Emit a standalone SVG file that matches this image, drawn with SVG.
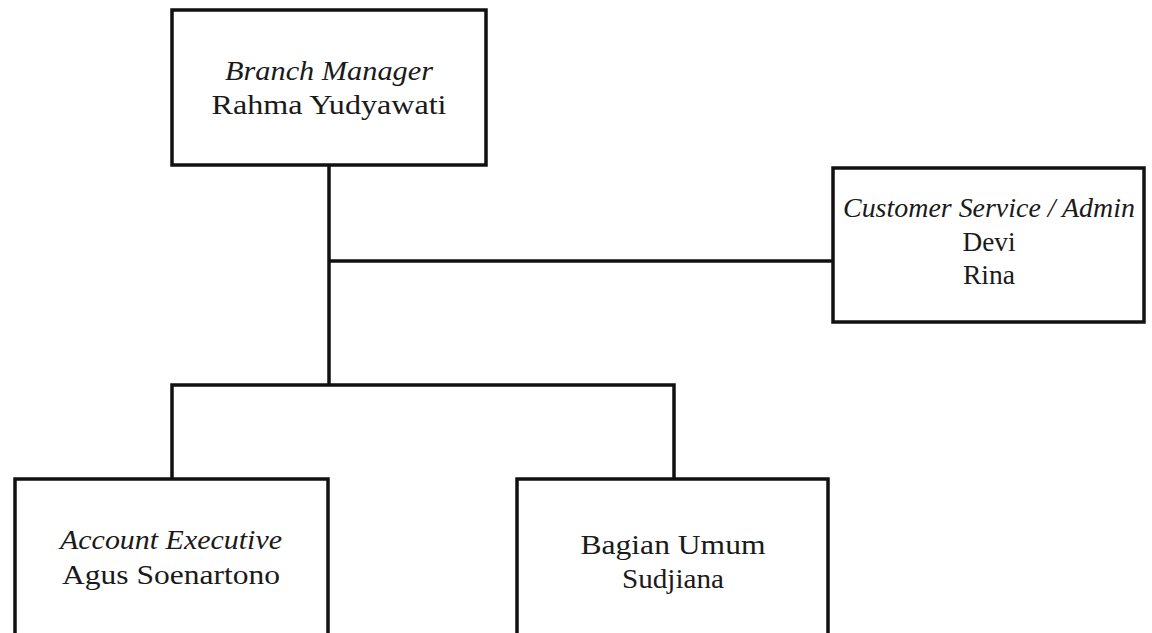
<svg xmlns="http://www.w3.org/2000/svg" width="1152" height="633" viewBox="0 0 1152 633">
<style>
.box{fill:#fff;stroke:#111;stroke-width:3.5}
.ln{fill:none;stroke:#111;stroke-width:3.5}
.it{font-style:italic}
</style>
<rect width="1152" height="633" fill="#fff"/>
<g id="connectors">
<line class="ln" x1="329" y1="165" x2="329" y2="385"/>
<line class="ln" x1="329" y1="261" x2="833" y2="261"/>
<polyline class="ln" points="172,479 172,385 674,385 674,479"/>
</g>
<g font-family="Liberation Serif, Times New Roman, DejaVu Serif, serif" font-size="28" fill="#1a1a1a" text-anchor="middle">
<g id="branch-manager">
<rect class="box" x="172" y="10" width="314" height="155"/>
<text class="it" x="329" y="80" textLength="208" lengthAdjust="spacingAndGlyphs">Branch Manager</text>
<text x="329" y="114" textLength="235" lengthAdjust="spacingAndGlyphs">Rahma Yudyawati</text>
</g>
<g id="customer-service">
<rect class="box" x="833" y="168" width="311" height="154"/>
<text class="it" x="989" y="217" textLength="292" lengthAdjust="spacingAndGlyphs">Customer Service / Admin</text>
<text x="989" y="251" textLength="53" lengthAdjust="spacingAndGlyphs">Devi</text>
<text x="989" y="284" textLength="52" lengthAdjust="spacingAndGlyphs">Rina</text>
</g>
<g id="account-executive">
<rect class="box" x="15" y="479" width="313" height="170"/>
<text class="it" x="171" y="549" textLength="222" lengthAdjust="spacingAndGlyphs">Account Executive</text>
<text x="171" y="584" textLength="218" lengthAdjust="spacingAndGlyphs">Agus Soenartono</text>
</g>
<g id="bagian-umum">
<rect class="box" x="517" y="479" width="311" height="170"/>
<text x="673" y="554" textLength="185" lengthAdjust="spacingAndGlyphs">Bagian Umum</text>
<text x="673" y="588" textLength="102" lengthAdjust="spacingAndGlyphs">Sudjiana</text>
</g>
</g>
</svg>
